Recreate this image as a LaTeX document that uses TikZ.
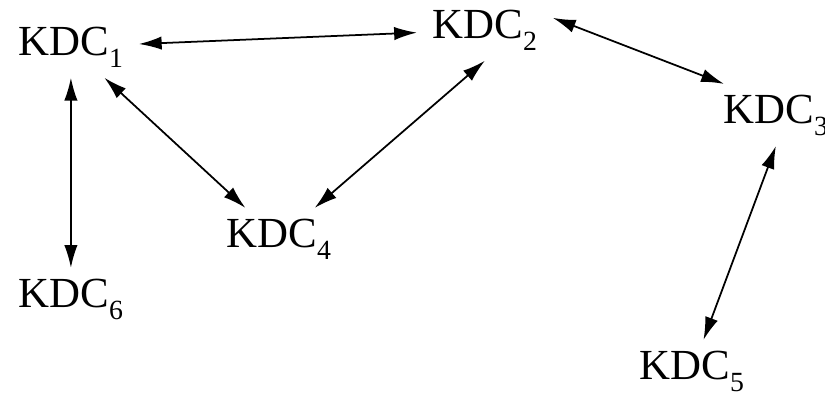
\documentclass[tikz,border=0pt]{standalone}
\usepackage{fontspec}
\setmainfont{Liberation Serif}
\newfontfamily\kdcfont{Liberation Serif}
\usetikzlibrary{arrows.meta}
\newcommand{\kdc}[1]{KDC\raisebox{-0.28em}{\fontsize{7.9}{8}\selectfont #1}}
\tikzset{kdc/.append style={inner xsep=0.15cm, inner ysep=0.1cm, anchor=base west, font=\kdcfont\fontsize{12.2}{14}\selectfont}}
\tikzset{lnk/.append style={line width=0.5pt, {Latex[length=6.5pt,width=3.8pt]}-{Latex[length=6.5pt,width=3.8pt]}}}

\begin{document}
\begin{tikzpicture}
                \useasboundingbox (0,0) rectangle (8.25,3.95);
                % servers
                \node[kdc] (k1) at (0.03,3.40) {\kdc{1}};
                \node[kdc] (k2) at (4.17,3.57) {\kdc{2}};
                \node[kdc] (k3) at (7.08,2.72) {\kdc{3}};
                \node[kdc] (k4) at (2.11,1.48) {\kdc{4}};
                \node[kdc] (k6) at (0.03,0.88) {\kdc{6}};
                \node[kdc] (k5) at (6.24,0.16) {\kdc{5}};
                \path (k1) edge[lnk] (k2);
                \path (k2.10) edge[lnk] ([xshift=0.16cm]k3.north west);
                \path (k1) edge[lnk] (k4);
                \path (k2.south) edge[lnk] (k4);
                \path (k1) edge[lnk] (k6);
                \path (k3.south) edge[lnk] (k5);
            \end{tikzpicture}
\end{document}
